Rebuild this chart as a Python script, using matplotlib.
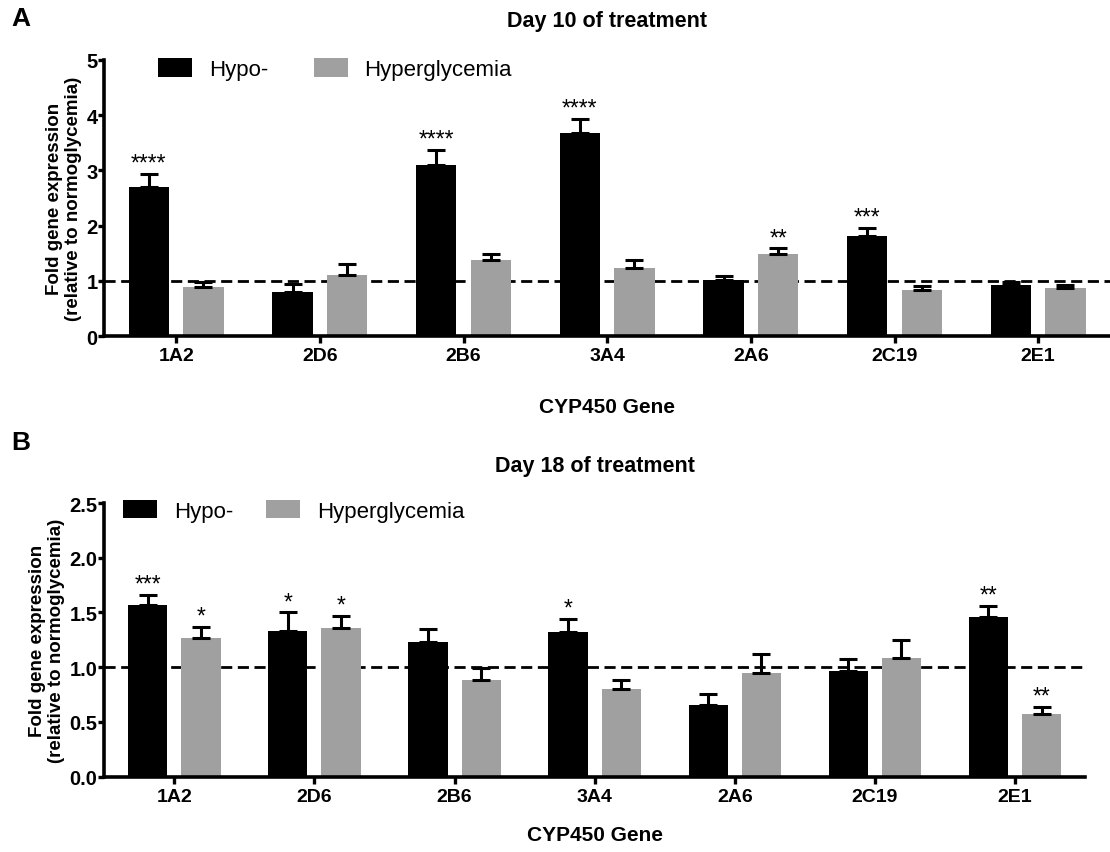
import numpy as np
import matplotlib
matplotlib.use('Agg')
import matplotlib.pyplot as plt
from matplotlib.patches import Patch

plt.rcParams['font.family'] = ['Liberation Sans', 'DejaVu Sans']

#------------------------------ data ------------------------------
genes = ['1A2', '2D6', '2B6', '3A4', '2A6', '2C19', '2E1']
series = ['Hypo-', 'Hyperglycemia']

# Day 10
hypo_10 = [2.70, 0.79, 3.10, 3.68, 1.01, 1.81, 0.92]
hypo_10_err = [0.24, 0.15, 0.27, 0.25, 0.07, 0.15, 0.06]
hyper_10 = [0.89, 1.10, 1.37, 1.24, 1.49, 0.84, 0.87]
hyper_10_err = [0.09, 0.20, 0.11, 0.14, 0.10, 0.07, 0.06]
hypo_10_sig = ['****', '', '****', '****', '', '***', '']
hyper_10_sig = ['', '', '', '', '**', '', '']

# Day 18
hypo_18 = [1.57, 1.33, 1.23, 1.32, 0.65, 0.96, 1.46]
hypo_18_err = [0.09, 0.17, 0.12, 0.12, 0.10, 0.11, 0.10]
hyper_18 = [1.27, 1.36, 0.88, 0.80, 0.95, 1.08, 0.57]
hyper_18_err = [0.10, 0.11, 0.11, 0.08, 0.17, 0.17, 0.07]
hypo_18_sig = ['***', '*', '', '*', '', '', '**']
hyper_18_sig = ['*', '*', '', '', '', '', '**']

BLACK = '#000000'
GREY = '#a0a0a0'


def draw_panel(ax, hypo, hypo_err, hyper, hyper_err, hypo_sig, hyper_sig,
               yticks, ylabels, title, title_pad, xlabelpad, leg_anchor, colspace):
    x = np.arange(len(genes))
    w = 0.28
    off = 0.19
    ax.axhline(1, color='black', lw=2, dashes=[4, 2], zorder=1)
    for vals, errs, sigs, pos, col in [(hypo, hypo_err, hypo_sig, x - off, BLACK),
                                       (hyper, hyper_err, hyper_sig, x + off, GREY)]:
        ax.bar(pos, vals, width=w, color=col, zorder=2)
        ax.errorbar(pos, vals, yerr=[np.zeros(len(vals)), errs], fmt='none',
                    ecolor='black', elinewidth=2.2, capsize=6.8, capthick=2.2, zorder=3)
        for p, v, e, s in zip(pos, vals, errs, sigs):
            if s:
                ax.annotate(s, (p, v + e), xytext=(0, 3), textcoords='offset points',
                            ha='center', va='baseline', fontsize=16.5)
    ax.set_xlim(-0.5, 6.5)
    ax.set_ylim(yticks[0], yticks[-1])
    ax.set_yticks(yticks)
    ax.set_yticklabels(ylabels, fontsize=14.5, fontweight='bold')
    ax.set_xticks(x)
    ax.set_xticklabels(genes, fontsize=14, fontweight='bold')
    for sp in ['top', 'right']:
        ax.spines[sp].set_visible(False)
    for sp in ['left', 'bottom']:
        ax.spines[sp].set_linewidth(2.6)
    ax.tick_params(axis='x', width=2.4, length=5, pad=3)
    ax.tick_params(axis='y', width=2.4, length=4, pad=1)
    ax.set_ylabel('Fold gene expression\n(relative to normoglycemia)',
                  fontsize=13.5, fontweight='bold', labelpad=3, linespacing=1.15)
    ax.set_xlabel('CYP450 Gene', fontsize=15, fontweight='bold', labelpad=xlabelpad)
    ax.set_title(title, fontsize=15.5, fontweight='bold', pad=title_pad)
    handles = [Patch(facecolor=BLACK), Patch(facecolor=GREY)]
    ax.legend(handles, series, loc='center left', bbox_to_anchor=leg_anchor, ncol=2,
              frameon=False, fontsize=16, handlelength=1.53, handleheight=0.9,
              handletextpad=0.75, columnspacing=colspace, borderaxespad=0, borderpad=0)


fig = plt.figure(figsize=(11.1, 8.53), dpi=100)
axA = fig.add_axes([0.094, 0.6049, 0.906, 0.3236])
axB = fig.add_axes([0.094, 0.0885, 0.8835, 0.3206])

draw_panel(axA, hypo_10, hypo_10_err, hyper_10, hyper_10_err, hypo_10_sig, hyper_10_sig,
           [0, 1, 2, 3, 4, 5], ['0', '1', '2', '3', '4', '5'],
           'Day 10 of treatment', 24.5, 24, (0.0534, 0.967), 2.05)
draw_panel(axB, hypo_18, hypo_18_err, hyper_18, hyper_18_err, hypo_18_sig, hyper_18_sig,
           [0, 0.5, 1.0, 1.5, 2.0, 2.5], ['0.0', '0.5', '1.0', '1.5', '2.0', '2.5'],
           'Day 18 of treatment', 23, 15, (0.019, 0.971), 1.5)

fig.text(0.01, 0.978, 'A', fontsize=19, fontweight='bold', va='center')
fig.text(0.01, 0.481, 'B', fontsize=19, fontweight='bold', va='center')

plt.savefig('out.png', dpi=100)
